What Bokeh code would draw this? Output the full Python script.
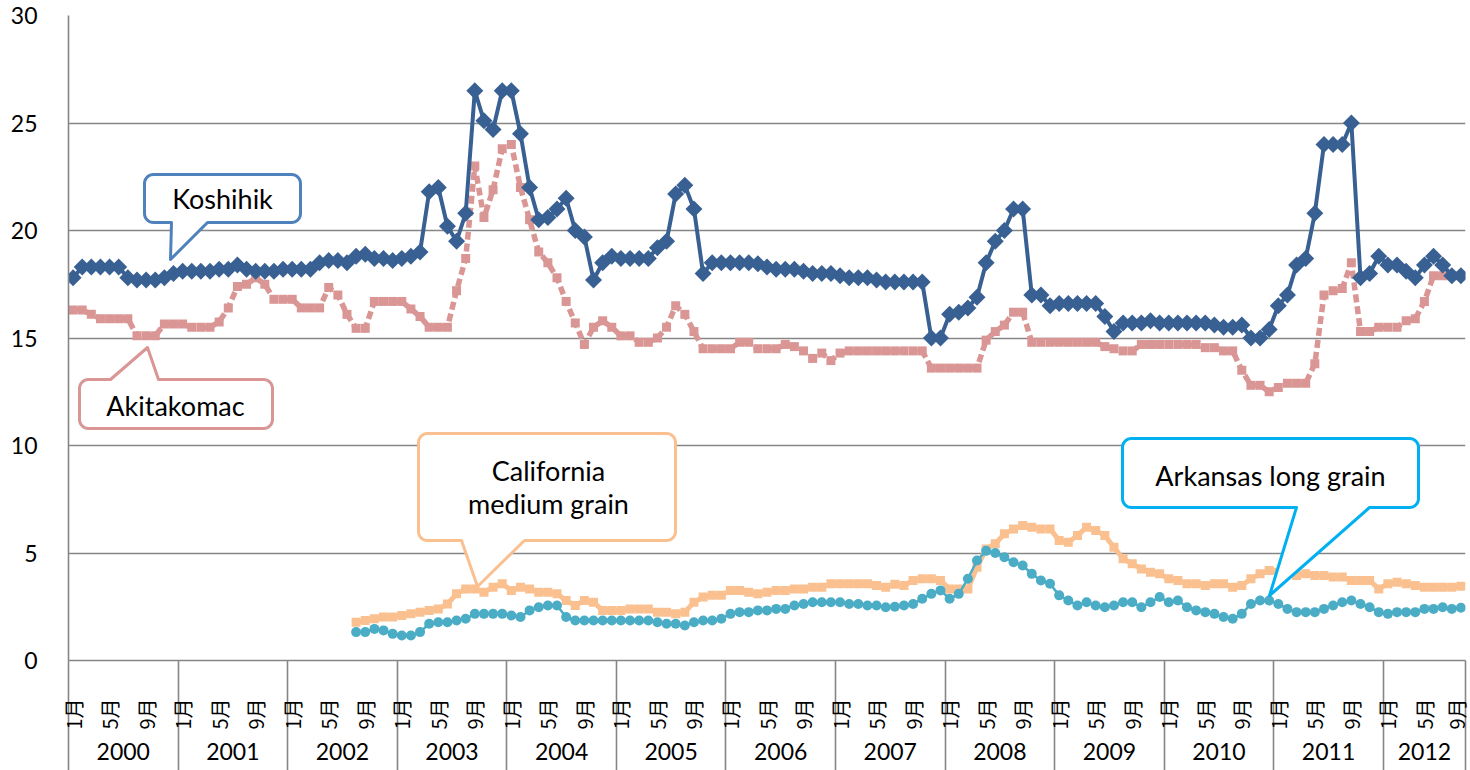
import math
import numpy as np
from bokeh.plotting import figure
from bokeh.models import (ColumnDataSource, FixedTicker, Range1d, LinearAxis, Grid,
                          Label)
from bokeh.embed import file_html
from bokeh.resources import INLINE

NaN = float("nan")

# ---------------- data ----------------
years = list(range(2000, 2013))
month_tick_labels = {1: "1月", 5: "5月", 9: "9月"}
y_ticks = [0, 5, 10, 15, 20, 25, 30]

koshihikari = [
    17.8, 18.3, 18.3, 18.3, 18.3, 18.3, 17.8, 17.7, 17.7, 17.7, 17.8, 18.0,   # 2000
    18.1, 18.1, 18.1, 18.1, 18.2, 18.2, 18.4, 18.2, 18.1, 18.1, 18.1, 18.2,   # 2001
    18.2, 18.2, 18.2, 18.5, 18.6, 18.6, 18.5, 18.8, 18.9, 18.7, 18.7, 18.6,   # 2002
    18.7, 18.8, 19.0, 21.8, 22.0, 20.2, 19.5, 20.8, 26.5, 25.1, 24.7, 26.5,   # 2003
    26.5, 24.5, 22.0, 20.5, 20.6, 21.0, 21.5, 20.0, 19.7, 17.7, 18.5, 18.8,   # 2004
    18.7, 18.7, 18.7, 18.7, 19.2, 19.5, 21.7, 22.1, 21.0, 18.0, 18.5, 18.5,   # 2005
    18.5, 18.5, 18.5, 18.45, 18.3, 18.2, 18.2, 18.2, 18.1, 18.0, 18.0, 18.0,  # 2006
    17.9, 17.8, 17.8, 17.8, 17.7, 17.6, 17.6, 17.6, 17.6, 17.6, 15.0, 15.0,   # 2007
    16.1, 16.2, 16.4, 16.9, 18.5, 19.5, 20.0, 21.0, 21.0, 17.0, 17.0, 16.5,   # 2008
    16.6, 16.6, 16.6, 16.6, 16.6, 16.0, 15.3, 15.7, 15.7, 15.7, 15.8, 15.7,   # 2009
    15.7, 15.7, 15.7, 15.7, 15.7, 15.6, 15.5, 15.5, 15.6, 15.0, 15.0, 15.4,   # 2010
    16.5, 17.0, 18.4, 18.7, 20.8, 24.0, 24.0, 24.0, 25.0, 17.8, 18.0, 18.8,   # 2011
    18.4, 18.4, 18.1, 17.8, 18.4, 18.8, 18.4, 17.9, 17.9,                     # 2012
]

akitakomachi = [
    16.3, 16.3, 16.1, 15.9, 15.9, 15.9, 15.9, 15.1, 15.1, 15.1, 15.65, 15.65,  # 2000
    15.65, 15.5, 15.5, 15.5, 15.75, 16.4, 17.4, 17.5, 17.8, 17.5, 16.8, 16.8,  # 2001
    16.8, 16.4, 16.4, 16.4, 17.35, 17.0, 16.1, 15.45, 15.45, 16.7, 16.7, 16.7, # 2002
    16.7, 16.35, 16.0, 15.5, 15.5, 15.5, 17.2, 18.7, 23.0, 20.6, 21.9, 23.8,   # 2003
    24.0, 22.0, 20.5, 19.0, 18.5, 17.8, 16.7, 15.7, 14.7, 15.5, 15.8, 15.5,    # 2004
    15.1, 15.1, 14.8, 14.8, 15.0, 15.5, 16.5, 16.1, 15.3, 14.5, 14.5, 14.5,    # 2005
    14.5, 14.8, 14.8, 14.5, 14.5, 14.5, 14.7, 14.6, 14.4, 14.05, 14.3, 13.95,  # 2006
    14.3, 14.4, 14.4, 14.4, 14.4, 14.4, 14.4, 14.4, 14.4, 14.4, 13.6, 13.6,    # 2007
    13.6, 13.6, 13.6, 13.6, 14.9, 15.3, 15.6, 16.2, 16.2, 14.8, 14.8, 14.8,    # 2008
    14.8, 14.8, 14.8, 14.8, 14.8, 14.6, 14.5, 14.4, 14.4, 14.7, 14.7, 14.7,    # 2009
    14.7, 14.7, 14.7, 14.7, 14.55, 14.55, 14.4, 14.4, 13.5, 12.8, 12.8, 12.5,  # 2010
    12.7, 12.9, 12.9, 12.9, 13.8, 17.0, 17.2, 17.3, 18.5, 15.3, 15.3, 15.5,    # 2011
    15.5, 15.5, 15.8, 15.9, 16.7, 17.9, 17.9, 17.9, 17.9,                      # 2012
]

california_medium = [NaN] * 31 + [
    1.78, 1.86, 1.94, 2.02, 2.02,                                          # 2002 Aug-Dec
    2.09, 2.17, 2.25, 2.33, 2.4, 2.63, 3.1, 3.33, 3.33, 3.18, 3.41, 3.57,  # 2003
    3.26, 3.41, 3.33, 3.18, 3.18, 3.1, 2.79, 2.56, 2.79, 2.71, 2.33, 2.33, # 2004
    2.33, 2.4, 2.4, 2.4, 2.25, 2.25, 2.17, 2.25, 2.71, 2.95, 3.03, 3.03,   # 2005
    3.26, 3.26, 3.18, 3.1, 3.18, 3.26, 3.26, 3.33, 3.33, 3.41, 3.41, 3.57, # 2006
    3.57, 3.57, 3.57, 3.57, 3.49, 3.41, 3.55, 3.49, 3.72, 3.8, 3.8, 3.72,  # 2007
    3.33, 3.33, 3.33, 4.34, 5.19, 5.43, 5.89, 6.12, 6.28, 6.2, 6.12, 6.12, # 2008
    5.58, 5.5, 5.81, 6.2, 6.05, 5.81, 5.27, 4.73, 4.5, 4.26, 4.1, 4.03,    # 2009
    3.8, 3.72, 3.57, 3.57, 3.49, 3.57, 3.57, 3.41, 3.49, 3.8, 4.03, 4.19,  # 2010
    4.1, 4.03, 3.95, 4.03, 3.95, 3.95, 3.88, 3.88, 3.72, 3.72, 3.72, 3.33, # 2011
    3.57, 3.64, 3.57, 3.49, 3.41, 3.41, 3.41, 3.41, 3.45,                  # 2012
]

arkansas_long = [NaN] * 31 + [
    1.32, 1.32, 1.47, 1.4, 1.24,                                           # 2002 Aug-Dec
    1.16, 1.16, 1.32, 1.71, 1.78, 1.78, 1.86, 1.94, 2.17, 2.17, 2.17, 2.17, # 2003
    2.09, 2.02, 2.33, 2.48, 2.56, 2.56, 2.02, 1.86, 1.86, 1.86, 1.86, 1.86, # 2004
    1.86, 1.86, 1.86, 1.86, 1.78, 1.71, 1.71, 1.63, 1.78, 1.86, 1.86, 1.94, # 2005
    2.17, 2.25, 2.25, 2.33, 2.33, 2.4, 2.4, 2.56, 2.63, 2.71, 2.71, 2.71,   # 2006
    2.71, 2.63, 2.63, 2.56, 2.56, 2.48, 2.5, 2.56, 2.63, 2.87, 3.1, 3.26,   # 2007
    2.87, 3.1, 3.8, 4.65, 5.1, 5.0, 4.8, 4.57, 4.42, 4.03, 3.72, 3.57,      # 2008
    3.03, 2.79, 2.56, 2.71, 2.56, 2.48, 2.56, 2.71, 2.71, 2.48, 2.71, 2.95, # 2009
    2.71, 2.79, 2.48, 2.33, 2.25, 2.17, 2.02, 1.94, 2.17, 2.63, 2.79, 2.79, # 2010
    2.63, 2.4, 2.25, 2.25, 2.25, 2.4, 2.56, 2.71, 2.79, 2.63, 2.48, 2.25,   # 2011
    2.17, 2.25, 2.25, 2.25, 2.4, 2.4, 2.48, 2.4, 2.45,                      # 2012
]

# ---------------- layout / style ----------------
n = len(koshihikari)
x_pos = np.arange(n) + 0.5

src = ColumnDataSource(dict(
    x=x_pos,
    koshi=np.array(koshihikari, dtype=float),
    akita=np.array(akitakomachi, dtype=float),
    cal=np.array(california_medium, dtype=float),
    ark=np.array(arkansas_long, dtype=float),
))

GRID = "#868686"
W, H = 1470, 770
p = figure(width=W, height=H, output_backend="svg", toolbar_location=None,
           x_range=Range1d(0, n), y_range=Range1d(0, 30),
           x_axis_type=None, y_axis_type=None,
           min_border_left=68, min_border_right=5, min_border_top=15,
           min_border_bottom=110)
p.outline_line_color = None
p.background_fill_color = "white"
p.border_fill_color = "white"

# y axis
yaxis = LinearAxis(ticker=FixedTicker(ticks=y_ticks, minor_ticks=[]))
yaxis.major_tick_line_color = None
yaxis.minor_tick_line_color = None
yaxis.major_tick_out = 0
yaxis.major_tick_in = 0
yaxis.axis_line_color = GRID
yaxis.axis_line_width = 1.6
yaxis.major_label_text_font = "Lato"
yaxis.major_label_text_font_size = "23px"
yaxis.major_label_text_color = "black"
yaxis.major_label_standoff = 31
p.add_layout(yaxis, "left")
p.add_layout(Grid(dimension=1, ticker=yaxis.ticker, grid_line_color=GRID,
                  grid_line_width=1.6))

# x axis: month labels as major ticks, year separators as minor ticks (drawn outward)
label_pos = [i + 0.5 for i in range(n) if (i % 12 + 1) in month_tick_labels]
overrides = {i + 0.5: month_tick_labels[i % 12 + 1]
             for i in range(n) if (i % 12 + 1) in month_tick_labels}
boundaries = [12 * k for k in range(len(years))] + [n]
xaxis = LinearAxis(ticker=FixedTicker(ticks=label_pos, minor_ticks=boundaries),
                   major_label_overrides=overrides)
xaxis.major_tick_line_color = None
xaxis.major_tick_out = 0
xaxis.major_tick_in = 0
xaxis.minor_tick_out = 0
xaxis.minor_tick_in = -112
xaxis.minor_tick_line_color = GRID
xaxis.minor_tick_line_width = 1.6
xaxis.axis_line_color = GRID
xaxis.axis_line_width = 1.6
xaxis.major_label_orientation = math.pi / 2
xaxis.major_label_text_font = "Noto Sans CJK JP"
xaxis.major_label_text_font_size = "20px"
xaxis.major_label_text_color = "black"
xaxis.major_label_standoff = 38
p.add_layout(xaxis, "below")

# year labels as a second axis
yr_x, yr_over = [], {}
for k, yv in enumerate(years):
    cnt = min(12, n - 12 * k)
    cx = 12 * k + cnt / 2.0
    yr_x.append(cx)
    yr_over[cx] = str(yv)
year_axis = LinearAxis(ticker=FixedTicker(ticks=yr_x, minor_ticks=[]),
                       major_label_overrides=yr_over)
year_axis.axis_line_color = None
year_axis.major_tick_line_color = None
year_axis.minor_tick_line_color = None
year_axis.major_tick_out = 0
year_axis.major_tick_in = 0
year_axis.major_label_text_font = "Lato"
year_axis.major_label_text_font_size = "23px"
year_axis.major_label_text_color = "black"
year_axis.major_label_standoff = 10
p.add_layout(year_axis, "below")

# series
p.line("x", "akita", source=src, line_color="#D99694", line_width=5.5,
       line_dash="8 4")
p.scatter("x", "akita", source=src, marker="square", size=9,
          fill_color="#D99694", line_color=None)

p.line("x", "koshi", source=src, line_color="#386092", line_width=4)
p.scatter("x", "koshi", source=src, marker="square", angle=math.pi / 4, size=12,
          fill_color="#386092", line_color=None)

p.line("x", "cal", source=src, line_color="#FAC090", line_width=5)
p.scatter("x", "cal", source=src, marker="square", size=9,
          fill_color="#FAC090", line_color=None)

p.line("x", "ark", source=src, line_color="#4BACC6", line_width=2.5)
p.scatter("x", "ark", source=src, marker="circle", size=10,
          fill_color="#4BACC6", line_color=None)

# ---------------- callouts (positions in reference pixels) ----------------
PX_PER_MONTH = 1397.0 / 153
PX_PER_UNIT = 21.5


def dx(X):
    return (X - 68) / PX_PER_MONTH


def dy(Y):
    return (660 - Y) / PX_PER_UNIT


def callout_path(L, T, R, B, side, base, tip, r=9):
    pts = []

    def arc(cx, cy, a0, a1):
        for k in range(9):
            a = a0 + (a1 - a0) * k / 8
            pts.append((cx + r * math.cos(a), cy + r * math.sin(a)))

    arc(L + r, T + r, math.pi, 1.5 * math.pi)
    if side == "top":
        pts += [(base[0], T), tip, (base[1], T)]
    arc(R - r, T + r, 1.5 * math.pi, 2 * math.pi)
    arc(R - r, B - r, 0, 0.5 * math.pi)
    if side == "bottom":
        pts += [(base[1], B), tip, (base[0], B)]
    arc(L + r, B - r, 0.5 * math.pi, math.pi)
    return [dx(a) for a, _ in pts], [dy(b) for _, b in pts]


callouts = [
    dict(lines=["Koshihik"], L=144, T=174, R=300, B=222, side="bottom",
         base=(171, 207), tip=(170, 259), color="#4F81BD", tx=222, ty=[198]),
    dict(lines=["Akitakomac"], L=79, T=379, R=272, B=428, side="top",
         base=(110, 158), tip=(147, 347), color="#D99694", tx=175, ty=[405]),
    dict(lines=["California", "medium grain"], L=418, T=433, R=675, B=540,
         side="bottom", base=(461, 524), tip=(477, 586), color="#FAC090",
         tx=548, ty=[470, 503]),
    dict(lines=["Arkansas long grain"], L=1122, T=438, R=1418, B=507,
         side="bottom", base=(1296, 1369), tip=(1269, 595), color="#00B0F0",
         tx=1270, ty=[475]),
]

for c in callouts:
    xs, ys = callout_path(c["L"], c["T"], c["R"], c["B"], c["side"],
                          c["base"], c["tip"])
    p.patch(xs, ys, fill_color="white", line_color=c["color"], line_width=3,
            line_join="round")
    for line_text, tyy in zip(c["lines"], c["ty"]):
        p.add_layout(Label(x=dx(c["tx"]), y=dy(tyy), text=line_text,
                           text_align="center", text_baseline="middle",
                           text_font="Lato", text_font_size="27px",
                           text_color="black"))

open("out.html", "w").write(file_html(p, INLINE))
